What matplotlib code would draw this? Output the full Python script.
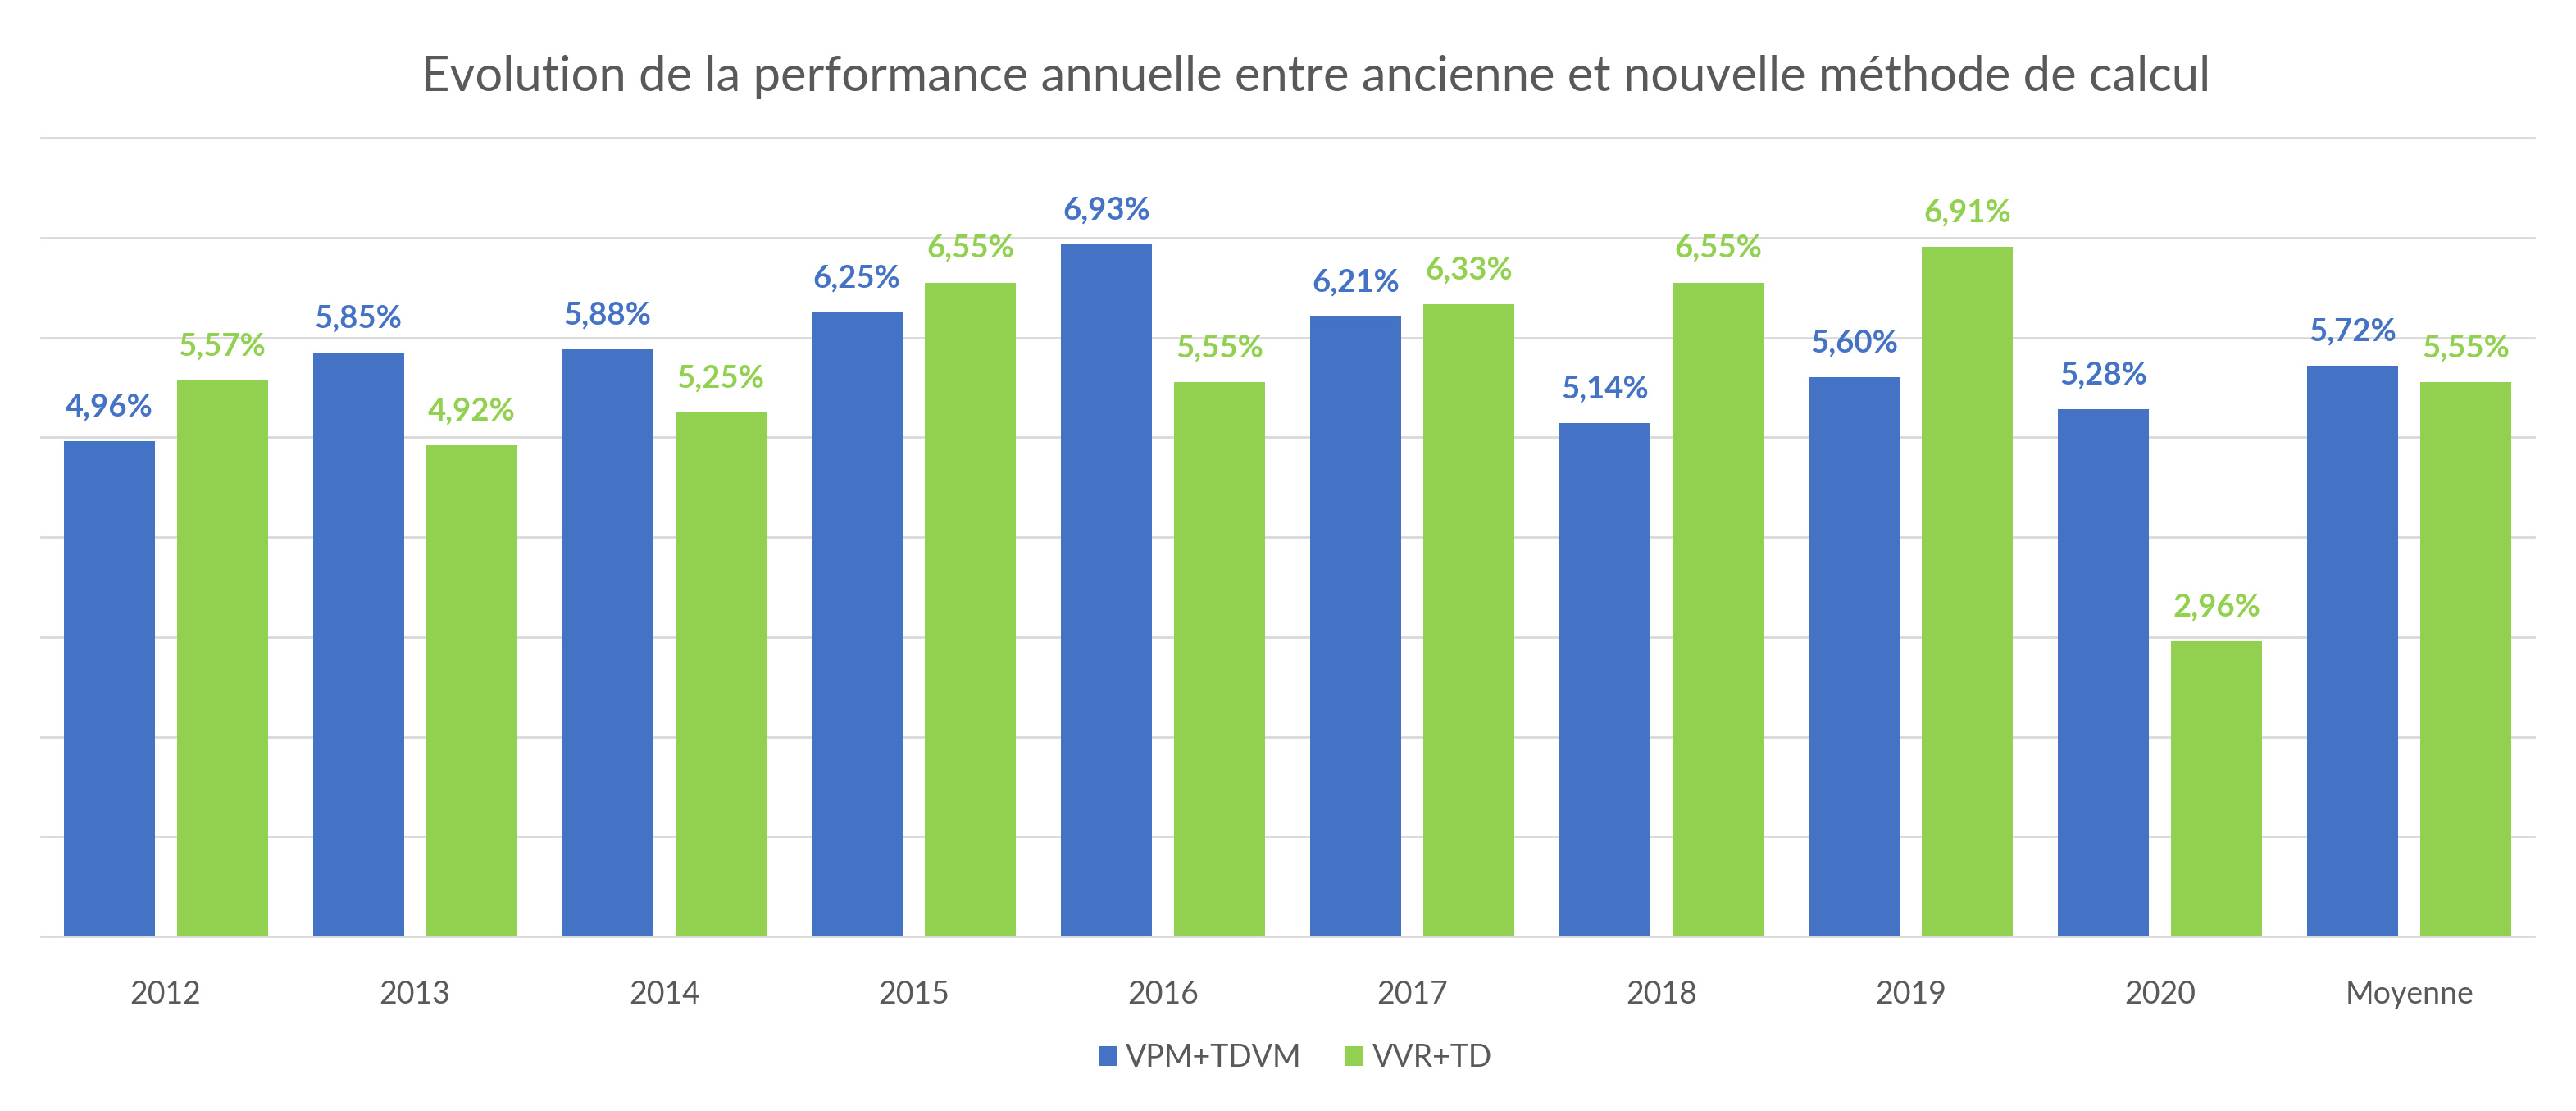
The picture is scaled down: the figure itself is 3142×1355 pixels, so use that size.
import matplotlib
matplotlib.use("Agg")
import matplotlib.pyplot as plt
import numpy as np

# data
categories = ["2012", "2013", "2014", "2015", "2016", "2017", "2018", "2019", "2020", "Moyenne"]
vpm_tdvm = [4.96, 5.85, 5.88, 6.25, 6.93, 6.21, 5.14, 5.60, 5.28, 5.72]
vvr_td = [5.57, 4.92, 5.25, 6.55, 5.55, 6.33, 6.55, 6.91, 2.96, 5.55]
series_names = ["VPM+TDVM", "VVR+TD"]

BLUE = "#4472C4"
GREEN = "#92D050"
TEXT = "#595959"
GRID = "#D9D9D9"

plt.rcParams['font.family'] = ['Lato', 'DejaVu Sans']

fig = plt.figure(figsize=(31.42, 13.55), dpi=100)
ax = fig.add_axes([50 / 3142, (1355 - 1142) / 1355, (3091 - 50) / 3142, (1142 - 168) / 1355])

x = np.arange(len(categories))
width = 0.365
offset = 0.227

b1 = ax.bar(x - offset, vpm_tdvm, width, color=BLUE, label=series_names[0], zorder=3)
b2 = ax.bar(x + offset, vvr_td, width, color=GREEN, label=series_names[1], zorder=3)

for bars, vals, col in [(b1, vpm_tdvm, BLUE), (b2, vvr_td, GREEN)]:
    for rect, v in zip(bars, vals):
        ax.annotate(f"{v:.2f}%".replace(".", ","),
                    (rect.get_x() + rect.get_width() / 2, v),
                    xytext=(0, 22), textcoords="offset points",
                    ha="center", va="baseline", fontsize=27.5,
                    fontweight="bold", color=col)

ax.set_xlim(-0.5, len(categories) - 0.5)
ax.set_ylim(0, 8)
for yv in range(1, 9):
    ax.axhline(yv, color=GRID, lw=2, zorder=1, clip_on=False)

for s in ["top", "right", "left"]:
    ax.spines[s].set_visible(False)
ax.spines["bottom"].set_color(GRID)
ax.spines["bottom"].set_linewidth(2)
ax.set_yticks([])
ax.set_xticks(x)
ax.set_xticklabels(categories, fontsize=27, color=TEXT)
ax.tick_params(axis="x", length=0, pad=38)

fig.text(0.511, 0.9306, "Evolution de la performance annuelle entre ancienne et nouvelle méthode de calcul",
         ha="center", va="center", fontsize=43, color=TEXT)

fig.legend(handles=[b1, b2], labels=series_names, loc="center",
           bbox_to_anchor=(1580 / 3142, 1 - 1290 / 1355), ncol=2, frameon=False,
           fontsize=27, labelcolor=TEXT, handlelength=0.6, handleheight=0.6,
           handletextpad=0.3, columnspacing=1.4)

fig.savefig("out.png", dpi=100, facecolor="white")
